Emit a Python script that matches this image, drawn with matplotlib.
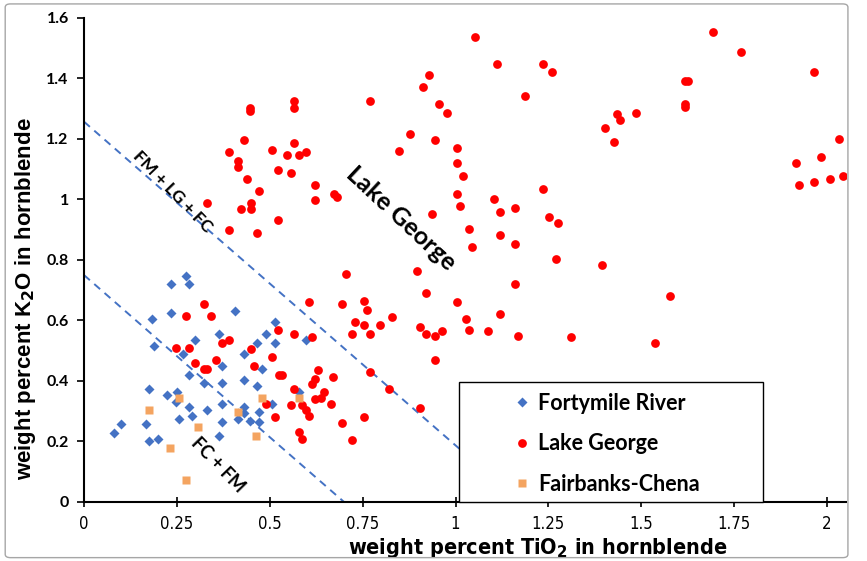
import matplotlib
matplotlib.use('Agg')
import matplotlib.pyplot as plt
from matplotlib.patches import Rectangle, FancyBboxPatch

# Fortymile River (blue diamonds)
fr_x = [0.274, 0.233, 0.283, 0.233, 0.182, 0.406, 0.513, 0.364, 0.490, 0.298,
        0.189, 0.465, 0.513, 0.266, 0.431, 0.372, 0.480, 0.283, 0.323, 0.372,
        0.431, 0.465, 0.174, 0.250, 0.223, 0.248, 0.282, 0.290, 0.257, 0.331,
        0.371, 0.431, 0.431, 0.472, 0.507, 0.415, 0.448, 0.472, 0.371, 0.364,
        0.100, 0.082, 0.166, 0.174, 0.200, 0.598, 0.580]
fr_y = [0.748, 0.720, 0.720, 0.624, 0.604, 0.632, 0.594, 0.555, 0.555, 0.537,
        0.517, 0.527, 0.527, 0.488, 0.488, 0.450, 0.440, 0.421, 0.392, 0.392,
        0.402, 0.383, 0.374, 0.365, 0.353, 0.332, 0.315, 0.285, 0.275, 0.304,
        0.324, 0.315, 0.294, 0.297, 0.324, 0.275, 0.268, 0.265, 0.265, 0.218,
        0.258, 0.229, 0.258, 0.201, 0.208, 0.537, 0.365]

# Lake George (red circles)
lg_x = [0.323, 0.274, 0.341, 0.522, 0.390, 0.371, 0.248, 0.282, 0.449, 0.506,
        0.298, 0.356, 0.323, 0.332, 0.457, 0.526, 0.533, 0.490, 0.513, 0.631,
        0.671, 0.621, 0.613, 0.770, 0.564, 0.646, 0.621, 0.639, 0.556, 0.588,
        0.664, 0.598, 0.606, 0.695, 0.755, 0.580, 0.588, 0.721, 0.821, 0.904,
        0.705, 0.896, 0.921, 1.004, 0.606, 0.695, 0.755, 0.763, 0.830, 0.729,
        0.755, 0.796, 0.721, 0.770, 0.904, 0.921, 0.946, 0.963, 1.028, 1.036,
        0.564, 0.614, 0.945,
        0.448, 0.448, 0.564, 0.564, 0.770, 0.431, 0.389, 0.415, 0.415, 0.505,
        0.564, 0.546, 0.580, 0.598, 0.523, 0.556, 0.439, 0.472, 0.622, 0.672,
        0.680, 0.622, 0.331, 0.449, 0.449, 0.423, 0.523, 0.389, 0.465,
        1.053, 1.112, 1.236, 1.261, 0.929, 0.912, 1.186, 0.956, 0.978, 1.402,
        0.878, 0.946, 0.847, 1.004, 1.004, 1.020, 1.004, 1.236, 1.104,
        1.012, 1.120, 1.161, 0.937, 1.252, 1.277, 1.037, 1.120, 1.161, 1.045,
        1.270, 1.394, 1.161, 1.120, 1.087, 1.169, 1.310,
        1.693, 1.768, 1.966, 1.618, 1.625, 1.618, 1.618, 1.436, 1.444, 1.485,
        1.427, 2.032, 1.983, 1.917, 1.925, 1.966, 2.008, 2.042, 1.577, 1.536]
lg_y = [0.655, 0.614, 0.614, 0.568, 0.537, 0.527, 0.508, 0.508, 0.507, 0.479,
        0.460, 0.469, 0.441, 0.441, 0.450, 0.421, 0.421, 0.324, 0.281, 0.436,
        0.412, 0.408, 0.389, 0.430, 0.374, 0.363, 0.341, 0.343, 0.322, 0.322,
        0.324, 0.303, 0.285, 0.261, 0.281, 0.232, 0.208, 0.204, 0.373, 0.312,
        0.753, 0.763, 0.691, 0.661, 0.661, 0.655, 0.664, 0.635, 0.613, 0.595,
        0.586, 0.586, 0.555, 0.555, 0.578, 0.555, 0.548, 0.565, 0.604, 0.568,
        0.555, 0.545, 0.469,
        1.303, 1.293, 1.326, 1.302, 1.325, 1.197, 1.156, 1.127, 1.106, 1.165,
        1.187, 1.146, 1.146, 1.156, 1.098, 1.088, 1.069, 1.028, 1.047, 1.018,
        1.008, 0.999, 0.989, 0.989, 0.970, 0.970, 0.931, 0.900, 0.890,
        1.536, 1.449, 1.449, 1.420, 1.411, 1.372, 1.343, 1.315, 1.285, 1.237,
        1.218, 1.197, 1.160, 1.170, 1.122, 1.079, 1.019, 1.036, 1.000,
        0.980, 0.960, 0.971, 0.951, 0.942, 0.922, 0.902, 0.882, 0.854, 0.844,
        0.803, 0.782, 0.720, 0.622, 0.565, 0.549, 0.546,
        1.555, 1.488, 1.420, 1.392, 1.392, 1.315, 1.305, 1.284, 1.264, 1.286,
        1.189, 1.199, 1.141, 1.122, 1.047, 1.057, 1.067, 1.077, 0.681, 0.527]

# Fairbanks-Chena (orange squares)
fc_x = [0.257, 0.174, 0.480, 0.415, 0.308, 0.464, 0.232, 0.274, 0.580]
fc_y = [0.344, 0.304, 0.344, 0.297, 0.247, 0.218, 0.180, 0.074, 0.344]

# field boundary lines (x, y end points)
upper_line_x = [0.0, 1.175]
upper_line_y = [1.257, 0.0]
lower_line_x = [0.0, 0.70]
lower_line_y = [0.75, 0.0]

blue = '#4472C4'
red = '#FF0000'
orange = '#F4A460'
narrow = ['Liberation Sans Narrow', 'DejaVu Sans']

fig = plt.figure(figsize=(8.67, 5.61), dpi=100)
ax = fig.add_axes([0.0969, 0.1052, 0.8784, 0.8628])

# outer chart border
fig.patches.append(FancyBboxPatch((0.006, 0.006), 0.972, 0.987, boxstyle='round,pad=0,rounding_size=0.006',
                                  transform=fig.transFigure, fill=False, edgecolor='#A6A6A6', linewidth=1))

ax.plot(upper_line_x, upper_line_y, color=blue, lw=1.4, dashes=(4, 3), zorder=2)
ax.plot(lower_line_x, lower_line_y, color=blue, lw=1.4, dashes=(4, 3), zorder=2)

ax.plot(fr_x, fr_y, 'D', color=blue, ms=4.6, mec='none', label='Fortymile River', zorder=3)
ax.plot(lg_x, lg_y, 'o', color=red, ms=6.3, mec='none', label='Lake George', zorder=3)
ax.plot(fc_x, fc_y, 's', color=orange, ms=5.5, mec='none', label='Fairbanks-Chena', zorder=3)

ax.set_xlim(0, 2.05)
ax.set_ylim(0, 1.6)
ax.set_xticks([0, 0.25, 0.5, 0.75, 1, 1.25, 1.5, 1.75, 2])
ax.set_xticklabels(['0', '0.25', '0.5', '0.75', '1', '1.25', '1.5', '1.75', '2'],
                   family=narrow, stretch='condensed', fontsize=12)
ax.set_yticks([0, 0.2, 0.4, 0.6, 0.8, 1.0, 1.2, 1.4, 1.6])
ax.set_yticklabels(['0', '0.2', '0.4', '0.6', '0.8', '1', '1.2', '1.4', '1.6'],
                   family=['Lato', 'DejaVu Sans'], fontsize=11.5, fontweight='bold')
ax.tick_params(axis='x', direction='inout', length=7, width=1.2, pad=6)
ax.tick_params(axis='y', direction='out', length=5, width=1.2, pad=6)
for side in ['top', 'right']:
    ax.spines[side].set_visible(False)
for side in ['left', 'bottom']:
    ax.spines[side].set_linewidth(1.5)

ax.set_xlabel('weight percent TiO$_\\mathbf{2}$ in hornblende', family=narrow, stretch='condensed',
              fontsize=15.5, fontweight='bold')
ax.xaxis.set_label_coords(0.596, -0.071)
ax.set_ylabel('weight percent K$_\\mathbf{2}$O in hornblende', family=['Liberation Sans', 'DejaVu Sans'],
              fontsize=16, fontweight='heavy')
ax.yaxis.set_label_coords(-0.060, 0.42)

ax.text(0.237, 1.025, 'FM + LG + FC', rotation=-46, ha='center', va='center',
        family=['Lato', 'DejaVu Sans'], fontsize=12.5, fontweight='bold')
ax.text(0.361, 0.122, 'FC + FM', rotation=-46, ha='center', va='center',
        family=['Lato', 'DejaVu Sans'], fontsize=13, fontweight='bold')
ax.text(0.853, 0.937, 'Lake George', rotation=-43, ha='center', va='center',
        family=['Lato', 'DejaVu Sans'], fontsize=18, fontweight='bold')

# legend box
ax.add_patch(Rectangle((0.492, 0.0), 0.40, 0.248, transform=ax.transAxes,
                       facecolor='white', edgecolor='black', linewidth=1, zorder=4, clip_on=False))
leg = ax.legend(loc='center', bbox_to_anchor=(0.688, 0.120), frameon=False,
                prop={'family': ['Lato', 'DejaVu Sans'], 'size': 15.5, 'weight': 'bold'},
                handlelength=0.6, handletextpad=0.45, labelspacing=0.9, borderpad=0.2)
leg.set_zorder(5)

fig.savefig('out.png', dpi=100)
